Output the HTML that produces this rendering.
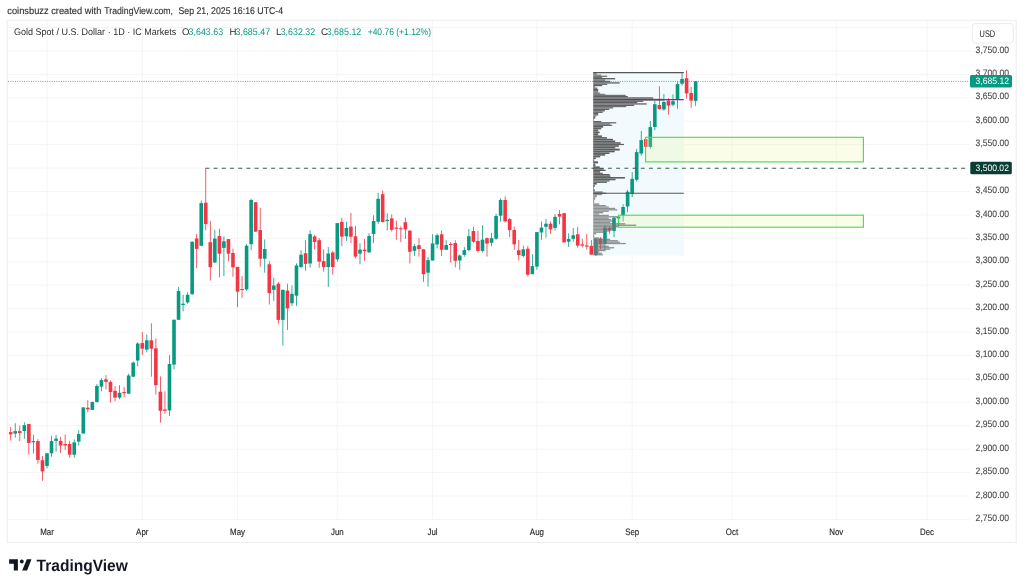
<!DOCTYPE html>
<html><head><meta charset="utf-8"><style>
html,body{margin:0;padding:0;background:#fff;width:1024px;height:588px;overflow:hidden}
svg{position:absolute;left:0;top:0;font-family:"Liberation Sans", sans-serif;will-change:transform;text-rendering:geometricPrecision}
</style></head><body>
<svg width="1024" height="588" viewBox="0 0 1024 588">
<g font-size="9.8" fill="#333" stroke="#333" stroke-width="0.15">
<text x="7.3" y="13.6" textLength="94" lengthAdjust="spacingAndGlyphs">coinsbuzz created with</text>
<text x="104.3" y="13.6" textLength="68.7" lengthAdjust="spacingAndGlyphs">TradingView.com,</text>
<text x="178.5" y="13.6" textLength="104.6" lengthAdjust="spacingAndGlyphs">Sep 21, 2025 16:16 UTC-4</text>
</g>
<rect x="7.2" y="20.3" width="1009" height="522.2" fill="#fff" stroke="#efefef" stroke-width="1.2"/>
<line x1="8" x2="969.5" y1="27.58" y2="27.58" stroke="#f5f5f5" stroke-width="1"/>
<line x1="8" x2="969.5" y1="51.00" y2="51.00" stroke="#f5f5f5" stroke-width="1"/>
<line x1="8" x2="969.5" y1="74.42" y2="74.42" stroke="#f5f5f5" stroke-width="1"/>
<line x1="8" x2="969.5" y1="97.84" y2="97.84" stroke="#f5f5f5" stroke-width="1"/>
<line x1="8" x2="969.5" y1="121.26" y2="121.26" stroke="#f5f5f5" stroke-width="1"/>
<line x1="8" x2="969.5" y1="144.68" y2="144.68" stroke="#f5f5f5" stroke-width="1"/>
<line x1="8" x2="969.5" y1="168.11" y2="168.11" stroke="#f5f5f5" stroke-width="1"/>
<line x1="8" x2="969.5" y1="191.53" y2="191.53" stroke="#f5f5f5" stroke-width="1"/>
<line x1="8" x2="969.5" y1="214.95" y2="214.95" stroke="#f5f5f5" stroke-width="1"/>
<line x1="8" x2="969.5" y1="238.37" y2="238.37" stroke="#f5f5f5" stroke-width="1"/>
<line x1="8" x2="969.5" y1="261.79" y2="261.79" stroke="#f5f5f5" stroke-width="1"/>
<line x1="8" x2="969.5" y1="285.21" y2="285.21" stroke="#f5f5f5" stroke-width="1"/>
<line x1="8" x2="969.5" y1="308.63" y2="308.63" stroke="#f5f5f5" stroke-width="1"/>
<line x1="8" x2="969.5" y1="332.05" y2="332.05" stroke="#f5f5f5" stroke-width="1"/>
<line x1="8" x2="969.5" y1="355.47" y2="355.47" stroke="#f5f5f5" stroke-width="1"/>
<line x1="8" x2="969.5" y1="378.89" y2="378.89" stroke="#f5f5f5" stroke-width="1"/>
<line x1="8" x2="969.5" y1="402.31" y2="402.31" stroke="#f5f5f5" stroke-width="1"/>
<line x1="8" x2="969.5" y1="425.74" y2="425.74" stroke="#f5f5f5" stroke-width="1"/>
<line x1="8" x2="969.5" y1="449.16" y2="449.16" stroke="#f5f5f5" stroke-width="1"/>
<line x1="8" x2="969.5" y1="472.58" y2="472.58" stroke="#f5f5f5" stroke-width="1"/>
<line x1="8" x2="969.5" y1="496.00" y2="496.00" stroke="#f5f5f5" stroke-width="1"/>
<line x1="8" x2="969.5" y1="519.42" y2="519.42" stroke="#f5f5f5" stroke-width="1"/>
<line x1="47.00" x2="47.00" y1="21" y2="520" stroke="#f5f5f5" stroke-width="1"/>
<line x1="142.26" x2="142.26" y1="21" y2="520" stroke="#f5f5f5" stroke-width="1"/>
<line x1="237.52" x2="237.52" y1="21" y2="520" stroke="#f5f5f5" stroke-width="1"/>
<line x1="337.31" x2="337.31" y1="21" y2="520" stroke="#f5f5f5" stroke-width="1"/>
<line x1="432.57" x2="432.57" y1="21" y2="520" stroke="#f5f5f5" stroke-width="1"/>
<line x1="536.90" x2="536.90" y1="21" y2="520" stroke="#f5f5f5" stroke-width="1"/>
<line x1="632.16" x2="632.16" y1="21" y2="520" stroke="#f5f5f5" stroke-width="1"/>
<line x1="731.95" x2="731.95" y1="21" y2="520" stroke="#f5f5f5" stroke-width="1"/>
<line x1="836.28" x2="836.28" y1="21" y2="520" stroke="#f5f5f5" stroke-width="1"/>
<line x1="927.00" x2="927.00" y1="21" y2="520" stroke="#f5f5f5" stroke-width="1"/>
<rect x="593.2" y="72.4" width="90.6" height="183.1" fill="#f2fafd"/>
<rect x="10.31" y="427.00" width="0.8" height="13.60" fill="#f23645"/>
<rect x="8.91" y="432.10" width="3.6" height="2.30" fill="#f23645"/>
<rect x="14.85" y="423.20" width="0.8" height="14.50" fill="#089981"/>
<rect x="13.45" y="431.10" width="3.6" height="2.50" fill="#089981"/>
<rect x="19.38" y="425.50" width="0.8" height="15.60" fill="#f23645"/>
<rect x="17.98" y="431.10" width="3.6" height="1.90" fill="#f23645"/>
<rect x="23.92" y="422.40" width="0.8" height="16.40" fill="#089981"/>
<rect x="22.52" y="425.20" width="3.6" height="5.80" fill="#089981"/>
<rect x="28.45" y="424.00" width="0.8" height="30.80" fill="#f23645"/>
<rect x="27.05" y="424.00" width="3.6" height="18.90" fill="#f23645"/>
<rect x="32.99" y="434.80" width="0.8" height="18.50" fill="#089981"/>
<rect x="31.59" y="441.10" width="3.6" height="1.20" fill="#089981"/>
<rect x="37.53" y="439.20" width="0.8" height="24.50" fill="#f23645"/>
<rect x="36.13" y="441.10" width="3.6" height="18.80" fill="#f23645"/>
<rect x="42.06" y="455.90" width="0.8" height="24.80" fill="#f23645"/>
<rect x="40.66" y="460.20" width="3.6" height="11.20" fill="#f23645"/>
<rect x="46.60" y="453.30" width="0.8" height="15.00" fill="#089981"/>
<rect x="45.20" y="453.30" width="3.6" height="12.70" fill="#089981"/>
<rect x="51.13" y="435.90" width="0.8" height="20.80" fill="#089981"/>
<rect x="49.73" y="441.10" width="3.6" height="12.20" fill="#089981"/>
<rect x="55.67" y="435.10" width="0.8" height="16.50" fill="#089981"/>
<rect x="54.27" y="438.60" width="3.6" height="2.30" fill="#089981"/>
<rect x="60.21" y="437.00" width="0.8" height="16.10" fill="#f23645"/>
<rect x="58.81" y="440.90" width="3.6" height="4.60" fill="#f23645"/>
<rect x="64.74" y="434.50" width="0.8" height="15.60" fill="#f23645"/>
<rect x="63.34" y="444.00" width="3.6" height="1.50" fill="#f23645"/>
<rect x="69.28" y="440.90" width="0.8" height="16.80" fill="#f23645"/>
<rect x="67.88" y="444.00" width="3.6" height="10.70" fill="#f23645"/>
<rect x="73.82" y="439.40" width="0.8" height="18.30" fill="#089981"/>
<rect x="72.42" y="442.40" width="3.6" height="12.30" fill="#089981"/>
<rect x="78.35" y="430.20" width="0.8" height="15.30" fill="#089981"/>
<rect x="76.95" y="434.00" width="3.6" height="7.60" fill="#089981"/>
<rect x="82.89" y="407.40" width="0.8" height="26.10" fill="#089981"/>
<rect x="81.49" y="407.40" width="3.6" height="26.10" fill="#089981"/>
<rect x="87.42" y="400.10" width="0.8" height="12.10" fill="#f23645"/>
<rect x="86.02" y="407.70" width="3.6" height="1.60" fill="#f23645"/>
<rect x="91.96" y="401.40" width="0.8" height="8.50" fill="#089981"/>
<rect x="90.56" y="402.10" width="3.6" height="7.80" fill="#089981"/>
<rect x="96.50" y="384.10" width="0.8" height="18.00" fill="#089981"/>
<rect x="95.10" y="386.00" width="3.6" height="16.10" fill="#089981"/>
<rect x="101.03" y="378.20" width="0.8" height="13.10" fill="#089981"/>
<rect x="99.63" y="380.10" width="3.6" height="6.50" fill="#089981"/>
<rect x="105.57" y="375.10" width="0.8" height="14.30" fill="#f23645"/>
<rect x="104.17" y="379.30" width="3.6" height="2.60" fill="#f23645"/>
<rect x="110.10" y="380.40" width="0.8" height="22.10" fill="#f23645"/>
<rect x="108.70" y="381.90" width="3.6" height="10.10" fill="#f23645"/>
<rect x="114.64" y="386.00" width="0.8" height="15.30" fill="#f23645"/>
<rect x="113.24" y="390.80" width="3.6" height="6.80" fill="#f23645"/>
<rect x="119.18" y="385.20" width="0.8" height="14.10" fill="#089981"/>
<rect x="117.78" y="392.80" width="3.6" height="4.80" fill="#089981"/>
<rect x="123.71" y="386.90" width="0.8" height="10.20" fill="#f23645"/>
<rect x="122.31" y="392.00" width="3.6" height="1.20" fill="#f23645"/>
<rect x="128.25" y="373.80" width="0.8" height="19.90" fill="#089981"/>
<rect x="126.85" y="375.50" width="3.6" height="18.20" fill="#089981"/>
<rect x="132.78" y="361.40" width="0.8" height="15.80" fill="#089981"/>
<rect x="131.38" y="362.60" width="3.6" height="14.10" fill="#089981"/>
<rect x="137.32" y="342.30" width="0.8" height="24.20" fill="#089981"/>
<rect x="135.92" y="343.50" width="3.6" height="17.00" fill="#089981"/>
<rect x="141.86" y="332.20" width="0.8" height="23.00" fill="#f23645"/>
<rect x="140.46" y="343.10" width="3.6" height="5.60" fill="#f23645"/>
<rect x="146.39" y="334.60" width="0.8" height="17.80" fill="#089981"/>
<rect x="144.99" y="340.30" width="3.6" height="9.30" fill="#089981"/>
<rect x="150.93" y="323.40" width="0.8" height="53.30" fill="#f23645"/>
<rect x="149.53" y="340.30" width="3.6" height="8.40" fill="#f23645"/>
<rect x="155.47" y="338.40" width="0.8" height="56.10" fill="#f23645"/>
<rect x="154.07" y="348.30" width="3.6" height="36.90" fill="#f23645"/>
<rect x="160.00" y="376.40" width="0.8" height="46.20" fill="#f23645"/>
<rect x="158.60" y="391.70" width="3.6" height="19.10" fill="#f23645"/>
<rect x="164.54" y="391.30" width="0.8" height="22.50" fill="#f23645"/>
<rect x="163.14" y="409.50" width="3.6" height="1.30" fill="#f23645"/>
<rect x="169.07" y="355.20" width="0.8" height="60.80" fill="#089981"/>
<rect x="167.67" y="364.00" width="3.6" height="46.40" fill="#089981"/>
<rect x="173.61" y="319.70" width="0.8" height="49.60" fill="#089981"/>
<rect x="172.21" y="319.70" width="3.6" height="44.90" fill="#089981"/>
<rect x="178.15" y="287.10" width="0.8" height="32.70" fill="#089981"/>
<rect x="176.75" y="291.00" width="3.6" height="28.80" fill="#089981"/>
<rect x="182.68" y="294.80" width="0.8" height="16.60" fill="#089981"/>
<rect x="181.28" y="303.70" width="3.6" height="1.30" fill="#089981"/>
<rect x="187.22" y="292.20" width="0.8" height="11.50" fill="#089981"/>
<rect x="185.82" y="294.80" width="3.6" height="7.60" fill="#089981"/>
<rect x="191.75" y="241.20" width="0.8" height="53.10" fill="#089981"/>
<rect x="190.35" y="241.80" width="3.6" height="52.50" fill="#089981"/>
<rect x="196.29" y="234.00" width="0.8" height="34.30" fill="#f23645"/>
<rect x="194.89" y="238.50" width="3.6" height="10.40" fill="#f23645"/>
<rect x="200.83" y="200.50" width="0.8" height="45.70" fill="#089981"/>
<rect x="199.43" y="203.10" width="3.6" height="42.70" fill="#089981"/>
<rect x="205.36" y="168.40" width="0.8" height="61.90" fill="#f23645"/>
<rect x="203.96" y="202.70" width="3.6" height="21.40" fill="#f23645"/>
<rect x="209.90" y="220.80" width="0.8" height="59.70" fill="#f23645"/>
<rect x="208.50" y="242.20" width="3.6" height="25.00" fill="#f23645"/>
<rect x="214.43" y="229.80" width="0.8" height="33.20" fill="#089981"/>
<rect x="213.03" y="238.60" width="3.6" height="23.90" fill="#089981"/>
<rect x="218.97" y="228.70" width="0.8" height="48.60" fill="#f23645"/>
<rect x="217.57" y="236.00" width="3.6" height="17.70" fill="#f23645"/>
<rect x="223.51" y="236.40" width="0.8" height="39.80" fill="#089981"/>
<rect x="222.11" y="241.30" width="3.6" height="6.60" fill="#089981"/>
<rect x="228.04" y="239.10" width="0.8" height="22.10" fill="#f23645"/>
<rect x="226.64" y="239.10" width="3.6" height="14.60" fill="#f23645"/>
<rect x="232.58" y="248.60" width="0.8" height="28.10" fill="#f23645"/>
<rect x="231.18" y="253.00" width="3.6" height="14.40" fill="#f23645"/>
<rect x="237.12" y="266.90" width="0.8" height="40.30" fill="#f23645"/>
<rect x="235.72" y="266.90" width="3.6" height="24.80" fill="#f23645"/>
<rect x="241.65" y="276.20" width="0.8" height="21.70" fill="#f23645"/>
<rect x="240.25" y="289.00" width="3.6" height="1.00" fill="#f23645"/>
<rect x="246.19" y="244.20" width="0.8" height="46.40" fill="#089981"/>
<rect x="244.79" y="245.70" width="3.6" height="43.80" fill="#089981"/>
<rect x="250.72" y="198.80" width="0.8" height="51.30" fill="#089981"/>
<rect x="249.32" y="200.00" width="3.6" height="44.20" fill="#089981"/>
<rect x="255.26" y="202.20" width="0.8" height="29.70" fill="#f23645"/>
<rect x="253.86" y="202.20" width="3.6" height="29.40" fill="#f23645"/>
<rect x="259.80" y="207.70" width="0.8" height="59.10" fill="#f23645"/>
<rect x="258.40" y="230.10" width="3.6" height="28.60" fill="#f23645"/>
<rect x="264.33" y="239.50" width="0.8" height="33.20" fill="#089981"/>
<rect x="262.93" y="249.00" width="3.6" height="9.70" fill="#089981"/>
<rect x="268.87" y="261.20" width="0.8" height="43.40" fill="#f23645"/>
<rect x="267.47" y="264.30" width="3.6" height="28.80" fill="#f23645"/>
<rect x="273.40" y="277.80" width="0.8" height="23.00" fill="#089981"/>
<rect x="272.00" y="285.50" width="3.6" height="4.30" fill="#089981"/>
<rect x="277.94" y="282.10" width="0.8" height="41.60" fill="#f23645"/>
<rect x="276.54" y="283.70" width="3.6" height="36.20" fill="#f23645"/>
<rect x="282.48" y="289.80" width="0.8" height="55.60" fill="#089981"/>
<rect x="281.08" y="289.80" width="3.6" height="30.10" fill="#089981"/>
<rect x="287.01" y="283.70" width="0.8" height="46.40" fill="#f23645"/>
<rect x="285.61" y="290.60" width="3.6" height="17.80" fill="#f23645"/>
<rect x="291.55" y="285.50" width="0.8" height="20.40" fill="#089981"/>
<rect x="290.15" y="293.90" width="3.6" height="9.40" fill="#089981"/>
<rect x="296.08" y="263.30" width="0.8" height="42.60" fill="#089981"/>
<rect x="294.68" y="265.50" width="3.6" height="30.20" fill="#089981"/>
<rect x="300.62" y="250.20" width="0.8" height="17.90" fill="#089981"/>
<rect x="299.22" y="254.70" width="3.6" height="12.30" fill="#089981"/>
<rect x="305.16" y="240.20" width="0.8" height="30.60" fill="#f23645"/>
<rect x="303.76" y="253.20" width="3.6" height="10.70" fill="#f23645"/>
<rect x="309.69" y="230.30" width="0.8" height="37.20" fill="#089981"/>
<rect x="308.29" y="234.10" width="3.6" height="29.40" fill="#089981"/>
<rect x="314.23" y="234.80" width="0.8" height="14.60" fill="#f23645"/>
<rect x="312.83" y="236.40" width="3.6" height="5.60" fill="#f23645"/>
<rect x="318.76" y="237.90" width="0.8" height="29.90" fill="#f23645"/>
<rect x="317.36" y="240.20" width="3.6" height="21.40" fill="#f23645"/>
<rect x="323.30" y="249.40" width="0.8" height="22.20" fill="#f23645"/>
<rect x="321.90" y="261.20" width="3.6" height="5.80" fill="#f23645"/>
<rect x="327.84" y="247.10" width="0.8" height="39.80" fill="#089981"/>
<rect x="326.44" y="253.50" width="3.6" height="13.50" fill="#089981"/>
<rect x="332.37" y="250.90" width="0.8" height="23.70" fill="#f23645"/>
<rect x="330.97" y="252.50" width="3.6" height="14.50" fill="#f23645"/>
<rect x="336.91" y="223.10" width="0.8" height="38.50" fill="#089981"/>
<rect x="335.51" y="223.10" width="3.6" height="36.20" fill="#089981"/>
<rect x="341.45" y="217.90" width="0.8" height="28.20" fill="#f23645"/>
<rect x="340.05" y="221.90" width="3.6" height="14.80" fill="#f23645"/>
<rect x="345.98" y="221.70" width="0.8" height="19.20" fill="#089981"/>
<rect x="344.58" y="227.90" width="3.6" height="8.40" fill="#089981"/>
<rect x="350.52" y="213.00" width="0.8" height="30.20" fill="#f23645"/>
<rect x="349.12" y="226.60" width="3.6" height="10.10" fill="#f23645"/>
<rect x="355.05" y="226.00" width="0.8" height="32.50" fill="#f23645"/>
<rect x="353.65" y="236.30" width="3.6" height="20.30" fill="#f23645"/>
<rect x="359.59" y="243.20" width="0.8" height="21.10" fill="#089981"/>
<rect x="358.19" y="249.60" width="3.6" height="4.00" fill="#089981"/>
<rect x="364.13" y="238.90" width="0.8" height="21.90" fill="#f23645"/>
<rect x="362.73" y="249.60" width="3.6" height="1.50" fill="#f23645"/>
<rect x="368.66" y="233.20" width="0.8" height="19.90" fill="#089981"/>
<rect x="367.26" y="236.00" width="3.6" height="16.30" fill="#089981"/>
<rect x="373.20" y="215.30" width="0.8" height="27.90" fill="#089981"/>
<rect x="371.80" y="221.00" width="3.6" height="13.00" fill="#089981"/>
<rect x="377.73" y="192.70" width="0.8" height="31.30" fill="#089981"/>
<rect x="376.33" y="198.80" width="3.6" height="22.90" fill="#089981"/>
<rect x="382.27" y="190.40" width="0.8" height="32.10" fill="#f23645"/>
<rect x="380.87" y="194.20" width="3.6" height="27.80" fill="#f23645"/>
<rect x="386.81" y="213.20" width="0.8" height="17.20" fill="#089981"/>
<rect x="385.41" y="219.80" width="3.6" height="1.30" fill="#089981"/>
<rect x="391.34" y="214.50" width="0.8" height="16.90" fill="#f23645"/>
<rect x="389.94" y="218.40" width="3.6" height="11.40" fill="#f23645"/>
<rect x="395.88" y="220.70" width="0.8" height="19.10" fill="#f23645"/>
<rect x="394.48" y="227.60" width="3.6" height="1.20" fill="#f23645"/>
<rect x="400.41" y="226.30" width="0.8" height="15.80" fill="#f23645"/>
<rect x="399.01" y="228.30" width="3.6" height="1.10" fill="#f23645"/>
<rect x="404.95" y="217.60" width="0.8" height="21.40" fill="#f23645"/>
<rect x="403.55" y="222.20" width="3.6" height="7.20" fill="#f23645"/>
<rect x="409.49" y="230.60" width="0.8" height="32.90" fill="#f23645"/>
<rect x="408.09" y="230.60" width="3.6" height="21.10" fill="#f23645"/>
<rect x="414.02" y="244.10" width="0.8" height="11.80" fill="#089981"/>
<rect x="412.62" y="246.20" width="3.6" height="4.60" fill="#089981"/>
<rect x="418.56" y="238.00" width="0.8" height="18.60" fill="#f23645"/>
<rect x="417.16" y="245.20" width="3.6" height="3.80" fill="#f23645"/>
<rect x="423.10" y="249.30" width="0.8" height="32.60" fill="#f23645"/>
<rect x="421.70" y="249.30" width="3.6" height="24.90" fill="#f23645"/>
<rect x="427.63" y="256.90" width="0.8" height="29.60" fill="#089981"/>
<rect x="426.23" y="260.10" width="3.6" height="12.60" fill="#089981"/>
<rect x="432.17" y="234.20" width="0.8" height="26.30" fill="#089981"/>
<rect x="430.77" y="243.40" width="3.6" height="17.10" fill="#089981"/>
<rect x="436.70" y="233.50" width="0.8" height="14.80" fill="#089981"/>
<rect x="435.30" y="235.20" width="3.6" height="9.30" fill="#089981"/>
<rect x="441.24" y="230.50" width="0.8" height="25.60" fill="#f23645"/>
<rect x="439.84" y="234.30" width="3.6" height="15.50" fill="#f23645"/>
<rect x="445.78" y="240.20" width="0.8" height="9.60" fill="#089981"/>
<rect x="444.38" y="245.00" width="3.6" height="4.80" fill="#089981"/>
<rect x="450.31" y="242.10" width="0.8" height="20.50" fill="#f23645"/>
<rect x="448.91" y="243.90" width="3.6" height="1.10" fill="#f23645"/>
<rect x="454.85" y="240.20" width="0.8" height="27.20" fill="#f23645"/>
<rect x="453.45" y="243.00" width="3.6" height="17.80" fill="#f23645"/>
<rect x="459.38" y="254.30" width="0.8" height="15.50" fill="#089981"/>
<rect x="457.98" y="255.50" width="3.6" height="5.00" fill="#089981"/>
<rect x="463.92" y="247.10" width="0.8" height="9.60" fill="#089981"/>
<rect x="462.52" y="250.10" width="3.6" height="4.80" fill="#089981"/>
<rect x="468.46" y="229.00" width="0.8" height="22.30" fill="#089981"/>
<rect x="467.06" y="236.20" width="3.6" height="13.90" fill="#089981"/>
<rect x="472.99" y="226.70" width="0.8" height="16.20" fill="#f23645"/>
<rect x="471.59" y="231.00" width="3.6" height="10.70" fill="#f23645"/>
<rect x="477.53" y="230.60" width="0.8" height="21.90" fill="#f23645"/>
<rect x="476.13" y="241.00" width="3.6" height="9.90" fill="#f23645"/>
<rect x="482.06" y="225.20" width="0.8" height="27.30" fill="#089981"/>
<rect x="480.66" y="239.70" width="3.6" height="11.20" fill="#089981"/>
<rect x="486.60" y="237.50" width="0.8" height="19.10" fill="#f23645"/>
<rect x="485.20" y="238.20" width="3.6" height="5.40" fill="#f23645"/>
<rect x="491.14" y="232.90" width="0.8" height="13.40" fill="#089981"/>
<rect x="489.74" y="238.20" width="3.6" height="4.60" fill="#089981"/>
<rect x="495.67" y="213.70" width="0.8" height="26.00" fill="#089981"/>
<rect x="494.27" y="216.00" width="3.6" height="22.70" fill="#089981"/>
<rect x="500.21" y="198.40" width="0.8" height="23.40" fill="#089981"/>
<rect x="498.81" y="200.00" width="3.6" height="15.70" fill="#089981"/>
<rect x="504.74" y="196.40" width="0.8" height="26.10" fill="#f23645"/>
<rect x="503.34" y="200.00" width="3.6" height="21.40" fill="#f23645"/>
<rect x="509.28" y="217.90" width="0.8" height="19.20" fill="#f23645"/>
<rect x="507.88" y="219.10" width="3.6" height="11.00" fill="#f23645"/>
<rect x="513.82" y="226.70" width="0.8" height="23.00" fill="#f23645"/>
<rect x="512.42" y="230.00" width="3.6" height="14.30" fill="#f23645"/>
<rect x="518.35" y="239.90" width="0.8" height="20.50" fill="#f23645"/>
<rect x="516.95" y="250.30" width="3.6" height="4.70" fill="#f23645"/>
<rect x="522.89" y="245.60" width="0.8" height="11.80" fill="#089981"/>
<rect x="521.49" y="249.30" width="3.6" height="6.60" fill="#089981"/>
<rect x="527.43" y="245.90" width="0.8" height="30.60" fill="#f23645"/>
<rect x="526.03" y="248.70" width="3.6" height="26.00" fill="#f23645"/>
<rect x="531.96" y="254.30" width="0.8" height="19.90" fill="#089981"/>
<rect x="530.56" y="266.10" width="3.6" height="8.10" fill="#089981"/>
<rect x="536.50" y="232.10" width="0.8" height="37.50" fill="#089981"/>
<rect x="535.10" y="232.10" width="3.6" height="34.50" fill="#089981"/>
<rect x="541.03" y="221.40" width="0.8" height="18.40" fill="#089981"/>
<rect x="539.63" y="227.60" width="3.6" height="4.90" fill="#089981"/>
<rect x="545.57" y="219.10" width="0.8" height="18.40" fill="#089981"/>
<rect x="544.17" y="223.70" width="3.6" height="3.10" fill="#089981"/>
<rect x="550.11" y="221.40" width="0.8" height="12.30" fill="#f23645"/>
<rect x="548.71" y="223.70" width="3.6" height="5.70" fill="#f23645"/>
<rect x="554.64" y="214.10" width="0.8" height="16.50" fill="#089981"/>
<rect x="553.24" y="216.80" width="3.6" height="11.10" fill="#089981"/>
<rect x="559.18" y="210.00" width="0.8" height="14.40" fill="#f23645"/>
<rect x="557.78" y="214.00" width="3.6" height="2.60" fill="#f23645"/>
<rect x="563.71" y="212.90" width="0.8" height="29.50" fill="#f23645"/>
<rect x="562.31" y="213.20" width="3.6" height="29.20" fill="#f23645"/>
<rect x="568.25" y="233.50" width="0.8" height="13.40" fill="#089981"/>
<rect x="566.85" y="239.00" width="3.6" height="2.70" fill="#089981"/>
<rect x="572.79" y="228.00" width="0.8" height="13.70" fill="#089981"/>
<rect x="571.39" y="235.30" width="3.6" height="3.50" fill="#089981"/>
<rect x="577.32" y="226.90" width="0.8" height="20.80" fill="#f23645"/>
<rect x="575.92" y="234.30" width="3.6" height="11.30" fill="#f23645"/>
<rect x="581.86" y="238.80" width="0.8" height="8.70" fill="#f23645"/>
<rect x="580.46" y="244.30" width="3.6" height="1.30" fill="#f23645"/>
<rect x="586.39" y="234.00" width="0.8" height="15.60" fill="#f23645"/>
<rect x="584.99" y="245.40" width="3.6" height="1.20" fill="#f23645"/>
<rect x="590.93" y="240.10" width="0.8" height="14.80" fill="#f23645"/>
<rect x="589.53" y="245.90" width="3.6" height="8.70" fill="#f23645"/>
<rect x="595.47" y="238.50" width="0.8" height="17.50" fill="#089981"/>
<rect x="594.07" y="238.50" width="3.6" height="16.50" fill="#089981"/>
<rect x="600.00" y="237.10" width="0.8" height="12.30" fill="#f23645"/>
<rect x="598.60" y="238.50" width="3.6" height="5.50" fill="#f23645"/>
<rect x="604.54" y="224.90" width="0.8" height="26.50" fill="#089981"/>
<rect x="603.14" y="227.60" width="3.6" height="16.10" fill="#089981"/>
<rect x="609.08" y="226.30" width="0.8" height="7.40" fill="#f23645"/>
<rect x="607.68" y="227.90" width="3.6" height="2.70" fill="#f23645"/>
<rect x="613.61" y="216.50" width="0.8" height="20.60" fill="#089981"/>
<rect x="612.21" y="217.80" width="3.6" height="13.10" fill="#089981"/>
<rect x="618.15" y="216.00" width="0.8" height="3.00" fill="#089981"/>
<rect x="616.75" y="216.40" width="3.6" height="2.10" fill="#089981"/>
<rect x="622.68" y="204.20" width="0.8" height="17.40" fill="#089981"/>
<rect x="621.28" y="207.00" width="3.6" height="8.40" fill="#089981"/>
<rect x="627.22" y="189.80" width="0.8" height="22.30" fill="#089981"/>
<rect x="625.82" y="191.70" width="3.6" height="14.80" fill="#089981"/>
<rect x="631.76" y="172.10" width="0.8" height="24.90" fill="#089981"/>
<rect x="630.36" y="178.90" width="3.6" height="15.20" fill="#089981"/>
<rect x="636.29" y="148.90" width="0.8" height="32.70" fill="#089981"/>
<rect x="634.89" y="152.10" width="3.6" height="27.70" fill="#089981"/>
<rect x="640.83" y="130.90" width="0.8" height="24.70" fill="#089981"/>
<rect x="639.43" y="140.10" width="3.6" height="13.40" fill="#089981"/>
<rect x="645.36" y="139.10" width="0.8" height="7.80" fill="#f23645"/>
<rect x="643.96" y="139.10" width="3.6" height="7.80" fill="#f23645"/>
<rect x="649.90" y="121.00" width="0.8" height="27.70" fill="#089981"/>
<rect x="648.50" y="127.10" width="3.6" height="19.80" fill="#089981"/>
<rect x="654.44" y="101.00" width="0.8" height="29.20" fill="#089981"/>
<rect x="653.04" y="104.20" width="3.6" height="22.80" fill="#089981"/>
<rect x="658.97" y="86.30" width="0.8" height="23.30" fill="#f23645"/>
<rect x="657.57" y="105.00" width="3.6" height="4.10" fill="#f23645"/>
<rect x="663.51" y="93.90" width="0.8" height="16.80" fill="#089981"/>
<rect x="662.11" y="102.00" width="3.6" height="7.40" fill="#089981"/>
<rect x="668.04" y="98.20" width="0.8" height="16.40" fill="#f23645"/>
<rect x="666.64" y="100.60" width="3.6" height="5.00" fill="#f23645"/>
<rect x="672.58" y="94.40" width="0.8" height="11.90" fill="#089981"/>
<rect x="671.18" y="101.20" width="3.6" height="3.50" fill="#089981"/>
<rect x="677.12" y="81.50" width="0.8" height="27.20" fill="#089981"/>
<rect x="675.72" y="84.10" width="3.6" height="14.90" fill="#089981"/>
<rect x="681.65" y="73.20" width="0.8" height="12.40" fill="#089981"/>
<rect x="680.25" y="79.00" width="3.6" height="4.70" fill="#089981"/>
<rect x="686.19" y="70.40" width="0.8" height="28.30" fill="#f23645"/>
<rect x="684.79" y="78.20" width="3.6" height="15.20" fill="#f23645"/>
<rect x="690.73" y="87.00" width="0.8" height="20.70" fill="#f23645"/>
<rect x="689.33" y="93.00" width="3.6" height="7.60" fill="#f23645"/>
<rect x="695.26" y="81.30" width="0.8" height="24.60" fill="#089981"/>
<rect x="693.86" y="81.30" width="3.6" height="19.60" fill="#089981"/>
<rect x="645.6" y="137.3" width="217.8" height="24.6" fill="#e6f58c" fill-opacity="0.2" stroke="#4cd94c" stroke-width="1.1"/>
<rect x="618.4" y="215.2" width="245" height="12.0" fill="#e6f58c" fill-opacity="0.2" stroke="#4cd94c" stroke-width="1.1"/>
<line x1="593.2" x2="683.8" y1="99.6" y2="99.6" stroke="#8e24aa" stroke-width="1.3"/>
<rect x="593.2" y="72.40" width="3.0" height="0.98" fill="#4e4e4e" fill-opacity="0.9"/>
<rect x="593.2" y="73.50" width="3.6" height="0.98" fill="#4e4e4e" fill-opacity="0.9"/>
<rect x="593.2" y="74.60" width="8.0" height="0.98" fill="#4e4e4e" fill-opacity="0.9"/>
<rect x="593.2" y="75.70" width="14.0" height="1.08" fill="#4e4e4e" fill-opacity="0.9"/>
<rect x="593.2" y="76.90" width="9.0" height="0.98" fill="#4e4e4e" fill-opacity="0.9"/>
<rect x="593.2" y="78.00" width="22.0" height="1.38" fill="#4e4e4e" fill-opacity="0.9"/>
<rect x="593.2" y="79.50" width="12.0" height="1.18" fill="#4e4e4e" fill-opacity="0.9"/>
<rect x="593.2" y="80.80" width="17.0" height="1.38" fill="#4e4e4e" fill-opacity="0.9"/>
<rect x="593.2" y="82.30" width="26.5" height="1.28" fill="#4e4e4e" fill-opacity="0.9"/>
<rect x="593.2" y="83.70" width="14.0" height="1.18" fill="#4e4e4e" fill-opacity="0.9"/>
<rect x="593.2" y="85.00" width="9.0" height="1.18" fill="#4e4e4e" fill-opacity="0.9"/>
<rect x="593.2" y="86.30" width="2.0" height="1.18" fill="#4e4e4e" fill-opacity="0.9"/>
<rect x="593.2" y="87.60" width="4.0" height="1.18" fill="#4e4e4e" fill-opacity="0.9"/>
<rect x="593.2" y="88.90" width="5.0" height="1.08" fill="#4e4e4e" fill-opacity="0.9"/>
<rect x="593.2" y="90.10" width="5.0" height="1.18" fill="#4e4e4e" fill-opacity="0.9"/>
<rect x="593.2" y="91.40" width="5.0" height="1.18" fill="#4e4e4e" fill-opacity="0.9"/>
<rect x="593.2" y="92.70" width="7.0" height="0.98" fill="#4e4e4e" fill-opacity="0.9"/>
<rect x="593.2" y="93.80" width="12.0" height="0.88" fill="#4e4e4e" fill-opacity="0.9"/>
<rect x="593.2" y="94.80" width="32.5" height="1.08" fill="#4e4e4e" fill-opacity="0.9"/>
<rect x="593.2" y="96.00" width="34.6" height="1.18" fill="#4e4e4e" fill-opacity="0.9"/>
<rect x="593.2" y="97.30" width="60.0" height="1.38" fill="#4e4e4e" fill-opacity="0.9"/>
<rect x="593.2" y="98.80" width="70.0" height="1.78" fill="#4e4e4e" fill-opacity="0.9"/>
<rect x="593.2" y="100.70" width="50.0" height="1.18" fill="#4e4e4e" fill-opacity="0.9"/>
<rect x="593.2" y="102.00" width="44.0" height="1.18" fill="#4e4e4e" fill-opacity="0.9"/>
<rect x="593.2" y="103.30" width="53.5" height="1.28" fill="#4e4e4e" fill-opacity="0.9"/>
<rect x="593.2" y="104.70" width="41.0" height="1.28" fill="#4e4e4e" fill-opacity="0.9"/>
<rect x="593.2" y="106.10" width="33.0" height="1.08" fill="#4e4e4e" fill-opacity="0.9"/>
<rect x="593.2" y="107.30" width="20.0" height="1.18" fill="#4e4e4e" fill-opacity="0.9"/>
<rect x="593.2" y="108.60" width="16.0" height="1.38" fill="#4e4e4e" fill-opacity="0.9"/>
<rect x="593.2" y="110.10" width="11.7" height="1.28" fill="#4e4e4e" fill-opacity="0.9"/>
<rect x="593.2" y="111.50" width="9.5" height="1.38" fill="#4e4e4e" fill-opacity="0.9"/>
<rect x="593.2" y="113.00" width="5.0" height="1.18" fill="#4e4e4e" fill-opacity="0.9"/>
<rect x="593.2" y="114.30" width="5.0" height="1.18" fill="#4e4e4e" fill-opacity="0.9"/>
<rect x="593.2" y="115.60" width="3.0" height="0.98" fill="#4e4e4e" fill-opacity="0.9"/>
<rect x="593.2" y="116.70" width="2.0" height="1.98" fill="#4e4e4e" fill-opacity="0.9"/>
<rect x="593.2" y="118.80" width="0.6" height="2.08" fill="#4e4e4e" fill-opacity="0.9"/>
<rect x="593.2" y="121.00" width="8.0" height="1.08" fill="#4e4e4e" fill-opacity="0.9"/>
<rect x="593.2" y="122.20" width="23.0" height="1.18" fill="#4e4e4e" fill-opacity="0.9"/>
<rect x="593.2" y="123.50" width="17.0" height="1.18" fill="#4e4e4e" fill-opacity="0.9"/>
<rect x="593.2" y="124.80" width="19.0" height="1.08" fill="#4e4e4e" fill-opacity="0.9"/>
<rect x="593.2" y="126.00" width="10.0" height="1.68" fill="#4e4e4e" fill-opacity="0.9"/>
<rect x="593.2" y="127.80" width="8.0" height="1.58" fill="#4e4e4e" fill-opacity="0.9"/>
<rect x="593.2" y="129.50" width="5.0" height="1.98" fill="#4e4e4e" fill-opacity="0.9"/>
<rect x="593.2" y="131.60" width="6.5" height="1.58" fill="#4e4e4e" fill-opacity="0.9"/>
<rect x="593.2" y="133.30" width="5.0" height="1.98" fill="#4e4e4e" fill-opacity="0.9"/>
<rect x="593.2" y="135.40" width="8.7" height="1.58" fill="#4e4e4e" fill-opacity="0.9"/>
<rect x="593.2" y="137.10" width="13.8" height="1.58" fill="#4e4e4e" fill-opacity="0.9"/>
<rect x="593.2" y="138.80" width="19.8" height="1.58" fill="#4e4e4e" fill-opacity="0.9"/>
<rect x="593.2" y="140.50" width="22.0" height="1.58" fill="#4e4e4e" fill-opacity="0.9"/>
<rect x="593.2" y="142.20" width="27.5" height="1.58" fill="#4e4e4e" fill-opacity="0.9"/>
<rect x="593.2" y="143.90" width="30.8" height="1.18" fill="#4e4e4e" fill-opacity="0.9"/>
<rect x="593.2" y="145.20" width="25.7" height="1.58" fill="#4e4e4e" fill-opacity="0.9"/>
<rect x="593.2" y="146.90" width="22.0" height="1.58" fill="#4e4e4e" fill-opacity="0.9"/>
<rect x="593.2" y="148.60" width="26.5" height="1.98" fill="#4e4e4e" fill-opacity="0.9"/>
<rect x="593.2" y="150.70" width="21.5" height="1.58" fill="#4e4e4e" fill-opacity="0.9"/>
<rect x="593.2" y="152.40" width="16.3" height="1.58" fill="#4e4e4e" fill-opacity="0.9"/>
<rect x="593.2" y="154.10" width="12.0" height="1.58" fill="#4e4e4e" fill-opacity="0.9"/>
<rect x="593.2" y="155.80" width="7.0" height="1.58" fill="#4e4e4e" fill-opacity="0.9"/>
<rect x="593.2" y="157.50" width="2.7" height="1.58" fill="#4e4e4e" fill-opacity="0.9"/>
<rect x="593.2" y="159.20" width="1.0" height="1.98" fill="#4e4e4e" fill-opacity="0.9"/>
<rect x="593.2" y="161.30" width="4.8" height="2.08" fill="#4e4e4e" fill-opacity="0.9"/>
<rect x="593.2" y="163.50" width="2.0" height="1.38" fill="#4e4e4e" fill-opacity="0.9"/>
<rect x="593.2" y="165.00" width="2.3" height="1.28" fill="#4e4e4e" fill-opacity="0.9"/>
<rect x="593.2" y="166.40" width="6.6" height="1.58" fill="#4e4e4e" fill-opacity="0.9"/>
<rect x="593.2" y="168.10" width="10.4" height="1.58" fill="#4e4e4e" fill-opacity="0.9"/>
<rect x="593.2" y="169.80" width="12.5" height="1.18" fill="#4e4e4e" fill-opacity="0.9"/>
<rect x="593.2" y="171.10" width="7.0" height="1.58" fill="#4e4e4e" fill-opacity="0.9"/>
<rect x="593.2" y="172.80" width="9.6" height="1.08" fill="#4e4e4e" fill-opacity="0.9"/>
<rect x="593.2" y="174.00" width="16.4" height="1.18" fill="#4e4e4e" fill-opacity="0.9"/>
<rect x="593.2" y="175.30" width="17.2" height="1.58" fill="#4e4e4e" fill-opacity="0.9"/>
<rect x="593.2" y="177.00" width="31.7" height="1.58" fill="#4e4e4e" fill-opacity="0.9"/>
<rect x="593.2" y="178.70" width="22.3" height="1.58" fill="#4e4e4e" fill-opacity="0.9"/>
<rect x="593.2" y="180.40" width="16.4" height="1.18" fill="#4e4e4e" fill-opacity="0.9"/>
<rect x="593.2" y="181.70" width="13.8" height="1.18" fill="#4e4e4e" fill-opacity="0.9"/>
<rect x="593.2" y="183.00" width="3.6" height="1.58" fill="#4e4e4e" fill-opacity="0.9"/>
<rect x="593.2" y="184.70" width="1.5" height="2.38" fill="#4e4e4e" fill-opacity="0.9"/>
<rect x="593.2" y="187.20" width="0.6" height="1.98" fill="#4e4e4e" fill-opacity="0.9"/>
<rect x="593.2" y="189.30" width="1.5" height="2.08" fill="#4e4e4e" fill-opacity="0.9"/>
<rect x="593.2" y="191.50" width="9.6" height="1.08" fill="#4e4e4e" fill-opacity="0.9"/>
<rect x="593.2" y="192.70" width="13.0" height="1.18" fill="#4e4e4e" fill-opacity="0.9"/>
<rect x="593.2" y="194.00" width="8.7" height="1.18" fill="#767676" fill-opacity="0.8"/>
<rect x="593.2" y="195.30" width="3.6" height="1.98" fill="#767676" fill-opacity="0.8"/>
<rect x="593.2" y="197.40" width="1.9" height="2.48" fill="#767676" fill-opacity="0.8"/>
<rect x="593.2" y="200.00" width="1.0" height="3.28" fill="#767676" fill-opacity="0.8"/>
<rect x="593.2" y="203.40" width="6.0" height="1.48" fill="#767676" fill-opacity="0.8"/>
<rect x="593.2" y="205.00" width="12.7" height="1.28" fill="#767676" fill-opacity="0.8"/>
<rect x="593.2" y="206.40" width="15.6" height="1.28" fill="#767676" fill-opacity="0.8"/>
<rect x="593.2" y="207.80" width="22.0" height="1.28" fill="#767676" fill-opacity="0.8"/>
<rect x="593.2" y="209.20" width="24.0" height="1.28" fill="#767676" fill-opacity="0.8"/>
<rect x="593.2" y="210.60" width="15.6" height="1.28" fill="#767676" fill-opacity="0.8"/>
<rect x="593.2" y="212.00" width="10.0" height="1.28" fill="#767676" fill-opacity="0.8"/>
<rect x="593.2" y="213.40" width="6.0" height="1.28" fill="#767676" fill-opacity="0.8"/>
<rect x="593.2" y="214.80" width="15.6" height="1.28" fill="#767676" fill-opacity="0.8"/>
<rect x="593.2" y="216.20" width="24.0" height="1.28" fill="#767676" fill-opacity="0.8"/>
<rect x="593.2" y="217.60" width="15.6" height="1.28" fill="#767676" fill-opacity="0.8"/>
<rect x="593.2" y="219.00" width="18.0" height="1.28" fill="#767676" fill-opacity="0.8"/>
<rect x="593.2" y="220.40" width="20.0" height="1.28" fill="#767676" fill-opacity="0.8"/>
<rect x="593.2" y="221.80" width="17.0" height="1.28" fill="#767676" fill-opacity="0.8"/>
<rect x="593.2" y="223.20" width="32.0" height="1.28" fill="#767676" fill-opacity="0.8"/>
<rect x="593.2" y="224.60" width="43.0" height="1.28" fill="#767676" fill-opacity="0.8"/>
<rect x="593.2" y="226.00" width="24.7" height="1.38" fill="#767676" fill-opacity="0.8"/>
<rect x="593.2" y="227.50" width="20.0" height="1.28" fill="#767676" fill-opacity="0.8"/>
<rect x="593.2" y="228.90" width="19.0" height="1.28" fill="#767676" fill-opacity="0.8"/>
<rect x="593.2" y="230.30" width="17.0" height="1.28" fill="#767676" fill-opacity="0.8"/>
<rect x="593.2" y="231.70" width="10.0" height="1.18" fill="#767676" fill-opacity="0.8"/>
<rect x="593.2" y="233.00" width="3.0" height="1.38" fill="#767676" fill-opacity="0.8"/>
<rect x="593.2" y="234.50" width="1.0" height="2.68" fill="#767676" fill-opacity="0.8"/>
<rect x="593.2" y="237.30" width="6.0" height="1.28" fill="#767676" fill-opacity="0.8"/>
<rect x="593.2" y="238.70" width="17.0" height="1.28" fill="#767676" fill-opacity="0.8"/>
<rect x="593.2" y="240.10" width="24.7" height="1.28" fill="#767676" fill-opacity="0.8"/>
<rect x="593.2" y="241.50" width="26.6" height="1.28" fill="#767676" fill-opacity="0.8"/>
<rect x="593.2" y="242.90" width="32.6" height="1.28" fill="#767676" fill-opacity="0.8"/>
<rect x="593.2" y="244.30" width="11.0" height="1.28" fill="#767676" fill-opacity="0.8"/>
<rect x="593.2" y="245.70" width="15.6" height="1.28" fill="#767676" fill-opacity="0.8"/>
<rect x="593.2" y="247.10" width="21.0" height="1.28" fill="#767676" fill-opacity="0.8"/>
<rect x="593.2" y="248.50" width="17.0" height="1.28" fill="#767676" fill-opacity="0.8"/>
<rect x="593.2" y="249.90" width="11.4" height="1.28" fill="#767676" fill-opacity="0.8"/>
<rect x="593.2" y="251.30" width="6.0" height="1.28" fill="#767676" fill-opacity="0.8"/>
<rect x="593.2" y="252.70" width="8.7" height="1.28" fill="#767676" fill-opacity="0.8"/>
<rect x="593.2" y="254.10" width="9.6" height="1.28" fill="#767676" fill-opacity="0.8"/>
<line x1="593.2" x2="683.8" y1="72.6" y2="72.6" stroke="#555" stroke-width="1.2"/>
<line x1="593.2" x2="683.8" y1="193.3" y2="193.3" stroke="#555" stroke-width="1.1"/>
<line x1="205.4" x2="969" y1="168.3" y2="168.3" stroke="#3d5c54" stroke-width="1.1" stroke-dasharray="3.9 4.315"/>
<line x1="8" x2="969" y1="81.4" y2="81.4" stroke="#089981" stroke-opacity="0.75" stroke-width="1" stroke-dasharray="1 1.3"/>
<text x="975.6" y="52.60" font-size="9.4" fill="#4a4a4a" stroke="#4a4a4a" stroke-width="0.12" textLength="33.5" lengthAdjust="spacingAndGlyphs">3,750.00</text>
<text x="975.6" y="76.02" font-size="9.4" fill="#4a4a4a" stroke="#4a4a4a" stroke-width="0.12" textLength="33.5" lengthAdjust="spacingAndGlyphs">3,700.00</text>
<text x="975.6" y="99.44" font-size="9.4" fill="#4a4a4a" stroke="#4a4a4a" stroke-width="0.12" textLength="33.5" lengthAdjust="spacingAndGlyphs">3,650.00</text>
<text x="975.6" y="122.86" font-size="9.4" fill="#4a4a4a" stroke="#4a4a4a" stroke-width="0.12" textLength="33.5" lengthAdjust="spacingAndGlyphs">3,600.00</text>
<text x="975.6" y="146.28" font-size="9.4" fill="#4a4a4a" stroke="#4a4a4a" stroke-width="0.12" textLength="33.5" lengthAdjust="spacingAndGlyphs">3,550.00</text>
<text x="975.6" y="193.13" font-size="9.4" fill="#4a4a4a" stroke="#4a4a4a" stroke-width="0.12" textLength="33.5" lengthAdjust="spacingAndGlyphs">3,450.00</text>
<text x="975.6" y="216.55" font-size="9.4" fill="#4a4a4a" stroke="#4a4a4a" stroke-width="0.12" textLength="33.5" lengthAdjust="spacingAndGlyphs">3,400.00</text>
<text x="975.6" y="239.97" font-size="9.4" fill="#4a4a4a" stroke="#4a4a4a" stroke-width="0.12" textLength="33.5" lengthAdjust="spacingAndGlyphs">3,350.00</text>
<text x="975.6" y="263.39" font-size="9.4" fill="#4a4a4a" stroke="#4a4a4a" stroke-width="0.12" textLength="33.5" lengthAdjust="spacingAndGlyphs">3,300.00</text>
<text x="975.6" y="286.81" font-size="9.4" fill="#4a4a4a" stroke="#4a4a4a" stroke-width="0.12" textLength="33.5" lengthAdjust="spacingAndGlyphs">3,250.00</text>
<text x="975.6" y="310.23" font-size="9.4" fill="#4a4a4a" stroke="#4a4a4a" stroke-width="0.12" textLength="33.5" lengthAdjust="spacingAndGlyphs">3,200.00</text>
<text x="975.6" y="333.65" font-size="9.4" fill="#4a4a4a" stroke="#4a4a4a" stroke-width="0.12" textLength="33.5" lengthAdjust="spacingAndGlyphs">3,150.00</text>
<text x="975.6" y="357.07" font-size="9.4" fill="#4a4a4a" stroke="#4a4a4a" stroke-width="0.12" textLength="33.5" lengthAdjust="spacingAndGlyphs">3,100.00</text>
<text x="975.6" y="380.49" font-size="9.4" fill="#4a4a4a" stroke="#4a4a4a" stroke-width="0.12" textLength="33.5" lengthAdjust="spacingAndGlyphs">3,050.00</text>
<text x="975.6" y="403.92" font-size="9.4" fill="#4a4a4a" stroke="#4a4a4a" stroke-width="0.12" textLength="33.5" lengthAdjust="spacingAndGlyphs">3,000.00</text>
<text x="975.6" y="427.34" font-size="9.4" fill="#4a4a4a" stroke="#4a4a4a" stroke-width="0.12" textLength="33.5" lengthAdjust="spacingAndGlyphs">2,950.00</text>
<text x="975.6" y="450.76" font-size="9.4" fill="#4a4a4a" stroke="#4a4a4a" stroke-width="0.12" textLength="33.5" lengthAdjust="spacingAndGlyphs">2,900.00</text>
<text x="975.6" y="474.18" font-size="9.4" fill="#4a4a4a" stroke="#4a4a4a" stroke-width="0.12" textLength="33.5" lengthAdjust="spacingAndGlyphs">2,850.00</text>
<text x="975.6" y="497.60" font-size="9.4" fill="#4a4a4a" stroke="#4a4a4a" stroke-width="0.12" textLength="33.5" lengthAdjust="spacingAndGlyphs">2,800.00</text>
<text x="975.6" y="521.02" font-size="9.4" fill="#4a4a4a" stroke="#4a4a4a" stroke-width="0.12" textLength="33.5" lengthAdjust="spacingAndGlyphs">2,750.00</text>
<rect x="972.3" y="23.6" width="41" height="19.4" rx="3" fill="#fff" stroke="#ebebeb" stroke-width="1"/>
<text x="979.6" y="36.6" font-size="9.6" fill="#222" textLength="15.6" lengthAdjust="spacingAndGlyphs">USD</text>
<rect x="970" y="74.9" width="42" height="12.7" rx="1.5" fill="#089981"/>
<text x="975.6" y="83.8" font-size="9.4" fill="#fff" textLength="33.5" lengthAdjust="spacingAndGlyphs">3,685.12</text>
<rect x="970.3" y="161.7" width="41.5" height="12.6" rx="1.5" fill="#0a3d33"/>
<text x="975.6" y="170.6" font-size="9.4" fill="#fff" textLength="33.3" lengthAdjust="spacingAndGlyphs">3,500.02</text>
<text transform="translate(47.00 535.1) scale(0.86 1)" font-size="9.2" fill="#2a2a2a" stroke="#2a2a2a" stroke-width="0.15" text-anchor="middle">Mar</text>
<text transform="translate(142.26 535.1) scale(0.86 1)" font-size="9.2" fill="#2a2a2a" stroke="#2a2a2a" stroke-width="0.15" text-anchor="middle">Apr</text>
<text transform="translate(237.52 535.1) scale(0.86 1)" font-size="9.2" fill="#2a2a2a" stroke="#2a2a2a" stroke-width="0.15" text-anchor="middle">May</text>
<text transform="translate(337.31 535.1) scale(0.86 1)" font-size="9.2" fill="#2a2a2a" stroke="#2a2a2a" stroke-width="0.15" text-anchor="middle">Jun</text>
<text transform="translate(432.57 535.1) scale(0.86 1)" font-size="9.2" fill="#2a2a2a" stroke="#2a2a2a" stroke-width="0.15" text-anchor="middle">Jul</text>
<text transform="translate(536.90 535.1) scale(0.86 1)" font-size="9.2" fill="#2a2a2a" stroke="#2a2a2a" stroke-width="0.15" text-anchor="middle">Aug</text>
<text transform="translate(632.16 535.1) scale(0.86 1)" font-size="9.2" fill="#2a2a2a" stroke="#2a2a2a" stroke-width="0.15" text-anchor="middle">Sep</text>
<text transform="translate(731.95 535.1) scale(0.86 1)" font-size="9.2" fill="#2a2a2a" stroke="#2a2a2a" stroke-width="0.15" text-anchor="middle">Oct</text>
<text transform="translate(836.28 535.1) scale(0.86 1)" font-size="9.2" fill="#2a2a2a" stroke="#2a2a2a" stroke-width="0.15" text-anchor="middle">Nov</text>
<text transform="translate(927.00 535.1) scale(0.86 1)" font-size="9.2" fill="#2a2a2a" stroke="#2a2a2a" stroke-width="0.15" text-anchor="middle">Dec</text>
<text y="34.7" font-size="9.6" fill="#2e2e2e"><tspan x="13.9" textLength="162.4" lengthAdjust="spacingAndGlyphs">Gold Spot / U.S. Dollar · 1D · IC Markets</tspan><tspan x="182.1">O</tspan><tspan x="188.6" fill="#089981" textLength="34.5" lengthAdjust="spacingAndGlyphs">3,643.63</tspan><tspan x="229.5">H</tspan><tspan x="235.5" fill="#089981" textLength="34.6" lengthAdjust="spacingAndGlyphs">3,685.47</tspan><tspan x="276">L</tspan><tspan x="280.7" fill="#089981" textLength="34.5" lengthAdjust="spacingAndGlyphs">3,632.32</tspan><tspan x="320.9">C</tspan><tspan x="326.7" fill="#089981" textLength="34.6" lengthAdjust="spacingAndGlyphs">3,685.12</tspan><tspan x="367.7" fill="#089981" textLength="63.3" lengthAdjust="spacingAndGlyphs">+40.76 (+1.12%)</tspan></text>
<g fill="#131722">
<path d="M9.1 559.3H17.9V570.6H13.8V563.7H9.1Z"/>
<circle cx="21.8" cy="561.5" r="1.9"/>
<path d="M26.8 559.3H31.5L27.1 570.6H22.2Z"/>
<text x="36.6" y="570.5" font-size="16.3" font-weight="bold" textLength="91.2" lengthAdjust="spacingAndGlyphs">TradingView</text>
</g>
</svg>
</body></html>
